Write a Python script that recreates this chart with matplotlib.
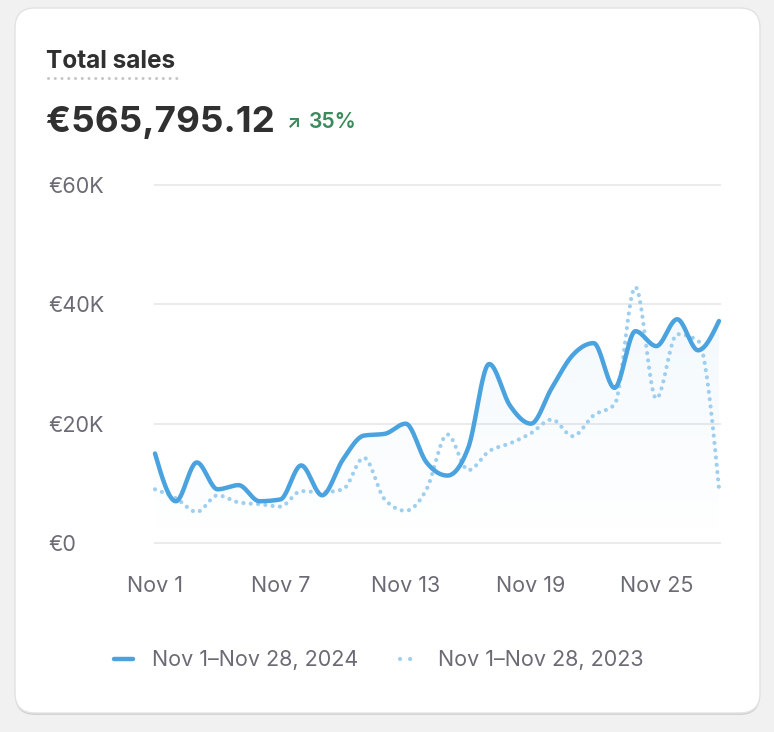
import matplotlib
matplotlib.use('Agg')
import matplotlib.pyplot as plt
from matplotlib.patches import FancyBboxPatch, Polygon
import numpy as np

plt.rcParams['font.family'] = ['Inter', 'DejaVu Sans']

# daily sales, Nov 1 .. Nov 28 (in euros)
days = [f'Nov {d}' for d in range(1, 29)]
sales_2024 = [15000, 7000, 13500, 9000, 9700, 7000, 7300, 13000, 8000, 14000,
              18000, 18300, 20000, 13500, 11300, 16000, 30000, 23000, 20000, 26000,
              31500, 33500, 26000, 35500, 33000, 37500, 32300, 37200]
sales_2023 = [9000, 7500, 5200, 8000, 6800, 6500, 6100, 8700, 8500, 9000,
              14300, 7300, 5400, 9000, 18200, 12200, 15400, 16700, 18400, 20700,
              17900, 21400, 23200, 42900, 24200, 35000, 33900, 9200]
tick_days = ['Nov 1', 'Nov 7', 'Nov 13', 'Nov 19', 'Nov 25']
y_ticks = [0, 20000, 40000, 60000]
y_labels = ['€0', '€20K', '€40K', '€60K']
total_label = '€565,795.12'
change_label = '35%'
legend_labels = ['Nov 1–Nov 28, 2024', 'Nov 1–Nov 28, 2023']

W, H = 774, 732
BLUE = '#4aa3df'
LIGHT_BLUE = '#9fcfef'
GRAY_TEXT = '#6b6b75'


def monotone_x(x, y, steps=24):
    # same curve as d3.curveMonotoneX
    x = np.asarray(x, float)
    y = np.asarray(y, float)
    h = np.diff(x)
    s = np.diff(y) / h
    t = np.zeros_like(y)
    for i in range(1, len(y) - 1):
        p = (s[i - 1] * h[i] + s[i] * h[i - 1]) / (h[i - 1] + h[i])
        t[i] = (np.sign(s[i - 1]) + np.sign(s[i])) * min(abs(s[i - 1]), abs(s[i]), 0.5 * abs(p))
    t[0] = (3 * s[0] - t[1]) / 2
    t[-1] = (3 * s[-1] - t[-2]) / 2
    xs, ys = [], []
    u = np.linspace(0, 1, steps, endpoint=False)
    for i in range(len(h)):
        h00 = 2 * u**3 - 3 * u**2 + 1
        h10 = u**3 - 2 * u**2 + u
        h01 = -2 * u**3 + 3 * u**2
        h11 = u**3 - u**2
        xs.append(x[i] + u * h[i])
        ys.append(h00 * y[i] + h10 * h[i] * t[i] + h01 * y[i + 1] + h11 * h[i] * t[i + 1])
    xs.append([x[-1]])
    ys.append([y[-1]])
    return np.concatenate(xs), np.concatenate(ys)


fig = plt.figure(figsize=(W / 100, H / 100), dpi=100)
fig.patch.set_facecolor('#f1f1f1')

# background layer in pixel units
bg = fig.add_axes([0, 0, 1, 1], zorder=0)
bg.set_xlim(0, W)
bg.set_ylim(H, 0)
bg.axis('off')
bg.add_patch(FancyBboxPatch((15, 10), 745, 705, boxstyle='round,pad=0,rounding_size=20',
                            facecolor='#d2d2d2', edgecolor='none'))
bg.add_patch(FancyBboxPatch((15, 8), 745, 705, boxstyle='round,pad=0,rounding_size=20',
                            facecolor='white', edgecolor='#e2e2e2', linewidth=1))

bg.text(46, 68, 'Total sales', fontsize=17.5, fontweight='bold', color='#303030', va='baseline')
bg.plot([48, 180], [77.5, 77.5], color='#c6c6c6', linewidth=2.2, linestyle=(0, (0.01, 2.2)),
        dash_capstyle='round')
bg.text(46, 132, total_label, fontsize=26.5, fontweight='bold', color='#303030', va='baseline')
bg.text(287, 127, '↗', fontsize=13, fontweight='bold', color='#3a8a5b', va='baseline')
bg.text(309, 128, change_label, fontsize=15.2, fontweight='semibold', color='#3a8a5b', va='baseline')

# legend
bg.plot([114, 133], [659, 659], color=BLUE, linewidth=3.2, solid_capstyle='round')
bg.text(152, 660, legend_labels[0], fontsize=15.5, color=GRAY_TEXT, va='center')
bg.plot([400, 420], [659, 659], color=LIGHT_BLUE, linewidth=3, linestyle=(0, (0.01, 2.4)),
        dash_capstyle='round')
bg.text(438, 660, legend_labels[1], fontsize=15.5, color=GRAY_TEXT, va='center')

# chart
ax = fig.add_axes([155 / W, 1 - 543 / H, (720 - 155) / W, (543 - 185) / H], zorder=1)
ax.set_facecolor('none')
x = np.arange(len(days))
ax.set_xlim(0, 27.05)
ax.set_ylim(0, 60000)

for v in y_ticks:
    ax.axhline(v, color='#ebebeb', linewidth=1.5, zorder=0, clip_on=False)

sx, sy = monotone_x(x, sales_2024)
px, py = monotone_x(x, sales_2023)

# faint gradient under this year's line
grad = np.zeros((256, 1, 4))
grad[:, 0, :3] = matplotlib.colors.to_rgb(BLUE)
grad[:, 0, 3] = np.linspace(0.065, 0.0, 256)
img = ax.imshow(grad, aspect='auto', extent=[0, 27, 0, max(sales_2024)], origin='upper', zorder=1)
clip = Polygon(np.column_stack([np.r_[sx, sx[-1], sx[0]], np.r_[sy, 0, 0]]),
               closed=True, transform=ax.transData, facecolor='none', edgecolor='none')
ax.add_patch(clip)
img.set_clip_path(clip)

ax.plot(px, py, color=LIGHT_BLUE, linewidth=3, linestyle=(0, (0.01, 1.75)),
        dash_capstyle='round', zorder=2, clip_on=False)
ax.plot(sx, sy, color=BLUE, linewidth=3.2, solid_capstyle='round', solid_joinstyle='round',
        zorder=3, clip_on=False)

ax.set_xticks([days.index(d) for d in tick_days])
ax.set_xticklabels(tick_days)
ax.set_yticks(y_ticks)
ax.set_yticklabels(y_labels)
ax.tick_params(axis='both', length=0, labelsize=15.5, labelcolor=GRAY_TEXT)
ax.tick_params(axis='x', pad=23.5)
ax.tick_params(axis='y', pad=76.5)
for lbl in ax.get_yticklabels():
    lbl.set_horizontalalignment('left')
for s in ax.spines.values():
    s.set_visible(False)

fig.savefig('out.png', dpi=100, facecolor=fig.get_facecolor())
